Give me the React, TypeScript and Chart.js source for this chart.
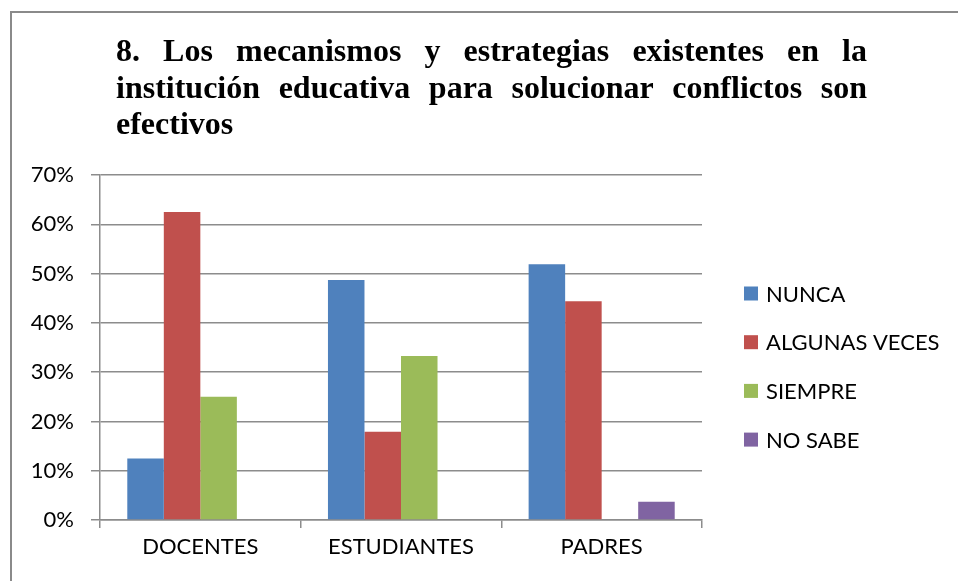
import React, { useEffect, useRef } from "react";
import { Chart, registerables } from "chart.js";

Chart.register(...registerables);

const categories = ["DOCENTES", "ESTUDIANTES", "PADRES"];
const seriesNames = ["NUNCA", "ALGUNAS VECES", "SIEMPRE", "NO SABE"];
const nunca = [12.5, 48.7, 51.9];
const algunasVeces = [62.5, 17.9, 44.4];
const siempre = [25, 33.3, 0];
const noSabe = [0, 0, 3.7];
const seriesColors = ["#4F81BD", "#C0504D", "#9BBB59", "#8064A2"];
const titleLines = [
  "8. Los mecanismos y estrategias existentes en la",
  "institución educativa para solucionar conflictos son",
  "efectivos",
];
const yMax = 70;
const yStep = 10;

const LABEL_FONT = "Lato";
const GRID = "#8c8c8c";

const framePlugin = {
  id: "frame",
  beforeDraw(chart: any) {
    const ctx = chart.ctx;
    ctx.save();
    ctx.fillStyle = "#ffffff";
    ctx.fillRect(0, 0, chart.width, chart.height);
    ctx.fillStyle = "#8a8a8a";
    ctx.fillRect(10, 11, chart.width - 10, 2);
    ctx.fillRect(10, 11, 2, chart.height - 11);
    ctx.restore();
  },
};

const titlePlugin = {
  id: "justTitle",
  afterDraw(chart: any) {
    const ctx = chart.ctx;
    const left = 116;
    const right = 867;
    const width = right - left;
    const baselines = [61, 97.5, 133.5];
    ctx.save();
    ctx.font = 'bold 32px "Liberation Serif", "Times New Roman", serif';
    ctx.fillStyle = "#000";
    ctx.textBaseline = "alphabetic";
    ctx.textAlign = "left";
    titleLines.forEach((line, i) => {
      const words = line.split(" ");
      if (i < titleLines.length - 1 && words.length > 1) {
        const total = words.reduce((s, w) => s + ctx.measureText(w).width, 0);
        const gap = (width - total) / (words.length - 1);
        let x = left;
        words.forEach((w) => {
          ctx.fillText(w, x, baselines[i]);
          x += ctx.measureText(w).width + gap;
        });
      } else {
        ctx.fillText(line, left, baselines[i]);
      }
    });
    ctx.restore();
  },
};

const legendPlugin = {
  id: "sideLegend",
  afterDraw(chart: any) {
    const ctx = chart.ctx;
    ctx.save();
    ctx.font = `22px ${LABEL_FONT}`;
    ctx.textBaseline = "middle";
    ctx.textAlign = "left";
    seriesNames.forEach((name, i) => {
      const cy = 293.5 + i * 48.7;
      ctx.fillStyle = seriesColors[i];
      ctx.fillRect(744, cy - 7, 14, 14);
      ctx.fillStyle = "#000";
      ctx.fillText(name, 766, cy + 1);
    });
    ctx.restore();
  },
};

export default function App() {
  const ref = useRef<HTMLCanvasElement | null>(null);

  useEffect(() => {
    if (!ref.current) return;
    const seriesData = [nunca, algunasVeces, siempre, noSabe];
    const chart = new Chart(ref.current, {
      type: "bar",
      data: {
        labels: categories,
        datasets: seriesNames.map((name, i) => ({
          label: name,
          data: seriesData[i],
          backgroundColor: seriesColors[i],
          borderWidth: 0,
          categoryPercentage: 0.728,
          barPercentage: 1,
        })),
      },
      options: {
        responsive: false,
        animation: false,
        layout: { padding: { left: 10, right: 256, top: 175, bottom: 0 } },
        plugins: {
          legend: { display: false },
          title: { display: false },
          tooltip: { enabled: false },
        },
        scales: {
          x: {
            afterFit(scale: any) {
              scale.height = 61;
            },
            grid: {
              offset: true,
              drawOnChartArea: false,
              drawTicks: true,
              tickLength: 8,
              color: GRID,
              lineWidth: 1.5,
            },
            border: { display: true, color: GRID, width: 1.5 },
            ticks: {
              color: "#000",
              font: { family: LABEL_FONT, size: 22 },
              padding: 6,
              maxRotation: 0,
            },
          },
          y: {
            min: 0,
            max: yMax,
            afterFit(scale: any) {
              scale.width = 90;
            },
            grid: {
              color: GRID,
              lineWidth: 1.5,
              drawTicks: true,
              tickLength: 9,
            },
            border: { display: true, color: GRID, width: 1.5 },
            ticks: {
              stepSize: yStep,
              color: "#000",
              font: { family: LABEL_FONT, size: 22 },
              padding: 17,
              callback: (v: any) => `${v}%`,
            },
          },
        },
      },
      plugins: [framePlugin, titlePlugin, legendPlugin],
    });
    return () => chart.destroy();
  }, []);

  return (
    <div style={{ position: "absolute", left: 0, top: 0, width: 958, height: 581 }}>
      <canvas ref={ref} width={958} height={581} />
    </div>
  );
}
